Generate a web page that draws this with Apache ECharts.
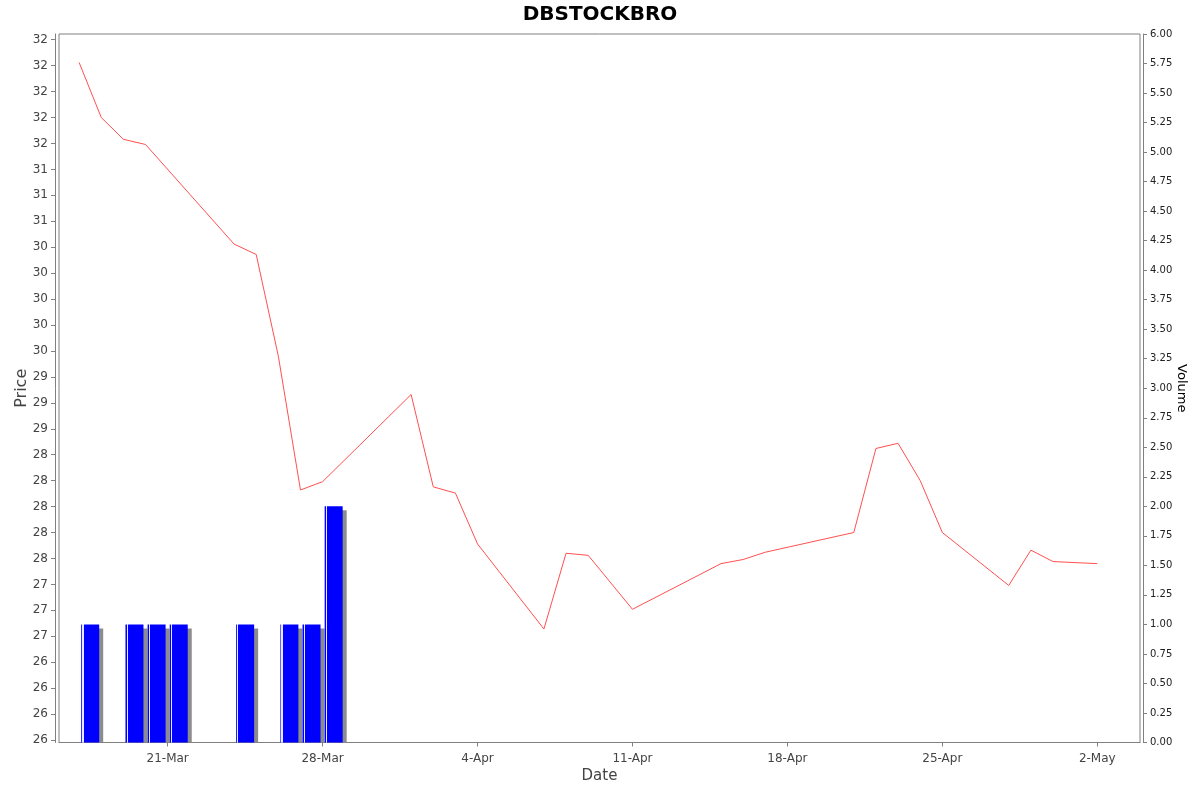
<!DOCTYPE html>
<html>
<head>
<meta charset="utf-8">
<script src="https://cdn.jsdelivr.net/npm/echarts@6/dist/echarts.min.js"></script>
<style>
html,body{margin:0;padding:0;background:#fff;}
#chart{width:1200px;height:792px;}
</style>
</head>
<body>
<div id="chart"></div>
<script>
// ---- data ----
const priceDates = ['2025-03-17','2025-03-18','2025-03-19','2025-03-20','2025-03-24','2025-03-25','2025-03-26','2025-03-27','2025-03-28',
  '2025-04-01','2025-04-02','2025-04-03','2025-04-04','2025-04-07','2025-04-08','2025-04-09','2025-04-11',
  '2025-04-15','2025-04-16','2025-04-17','2025-04-21','2025-04-22','2025-04-23','2025-04-24','2025-04-25',
  '2025-04-28','2025-04-29','2025-04-30','2025-05-02'];
const priceValues = [32.28,31.75,31.54,31.49,30.53,30.43,29.45,28.16,28.24,
  29.08,28.19,28.13,27.64,26.82,27.55,27.53,27.01,
  27.45,27.49,27.56,27.75,28.56,28.61,28.25,27.75,
  27.24,27.58,27.47,27.45];
const volumeDates = ['2025-03-17','2025-03-19','2025-03-20','2025-03-21','2025-03-24','2025-03-26','2025-03-27','2025-03-28'];
const volumeValues = [1,1,1,1,1,1,1,2];
const priceTickValues = [25.75,26,26.25,26.5,26.75,27,27.25,27.5,27.75,28,28.25,28.5,28.75,29,29.25,29.5,29.75,30,30.25,30.5,30.75,31,31.25,31.5,31.75,32,32.25,32.5];
const priceTickLabels = ['26','26','26','26','27','27','27','28','28','28','28','28','29','29','29','30','30','30','30','30','31','31','31','32','32','32','32','32'];
const dateTickValues = ['2025-03-21','2025-03-28','2025-04-04','2025-04-11','2025-04-18','2025-04-25','2025-05-02'];
const dateTickLabels = ['21-Mar','28-Mar','4-Apr','11-Apr','18-Apr','25-Apr','2-May'];

function parseDate(s, hours) {
  const p = s.split('-').map(Number);
  return Date.UTC(p[0], p[1]-1, p[2], hours || 0, 0, 0);
}
const DAY = 86400000;
const xMin = parseDate('2025-03-16', 2) + 10*60000;
const xMax = parseDate('2025-05-03', 22) + 20*60000;

const lineData = priceDates.map((d,i)=>[parseDate(d), priceValues[i]]);
const barData = volumeDates.map((d,i)=>[parseDate(d) + DAY/2, volumeValues[i]]);
const dateTicks = dateTickValues.map(d=>parseDate(d));

const FONT = 'DejaVu Sans';
const chart = echarts.init(document.getElementById('chart'), null, {renderer:'canvas'});

const BARW = 18;
chart.setOption({
  animation: false,
  backgroundColor: '#ffffff',
  title: {
    text: 'DBSTOCKBRO', left: 'center', top: 0,
    textStyle: {fontFamily: FONT, fontWeight: 'bold', fontSize: 20, color: '#000'}
  },
  grid: {left: 59, right: 60, top: 34, bottom: 49.5, show: true, borderColor: '#808080', borderWidth: 1,
    backgroundColor: '#fff', containLabel: false, outerBoundsMode: 'none'},
  xAxis: {
    type: 'value', min: xMin, max: xMax, offset: 4,
    name: 'Date', nameLocation: 'middle', nameGap: 22, nameMoveOverlap: false,
    nameTextStyle: {fontFamily: FONT, fontSize: 15, color: '#444'},
    axisLine: {show: true, lineStyle: {color: '#808080'}},
    axisTick: {show: true, length: 4, lineStyle: {color: '#808080'}, customValues: dateTicks},
    axisLabel: {
      customValues: dateTicks, margin: 6, fontFamily: FONT, fontSize: 12, color: '#444',
      formatter: function (v) {
        let best = 0, bd = Infinity;
        dateTicks.forEach((t,i)=>{ const d = Math.abs(t - v); if (d < bd) { bd = d; best = i; } });
        return dateTickLabels[best];
      }
    },
    splitLine: {show: false}
  },
  yAxis: [{
    type: 'value', position: 'left', min: 25.726, max: 32.555, offset: 4,
    name: 'Price', nameLocation: 'middle', nameGap: 25, nameRotate: 90, nameMoveOverlap: false,
    nameTextStyle: {fontFamily: FONT, fontSize: 16, color: '#444'},
    axisLine: {show: true, lineStyle: {color: '#808080'}},
    axisTick: {show: true, length: 4, lineStyle: {color: '#808080'}, customValues: priceTickValues},
    axisLabel: {
      customValues: priceTickValues, margin: 7, fontFamily: FONT, fontSize: 12, color: '#444',
      formatter: function (v) {
        let best = 0, bd = Infinity;
        priceTickValues.forEach((t,i)=>{ const d = Math.abs(t - v); if (d < bd) { bd = d; best = i; } });
        return priceTickLabels[best];
      }
    },
    splitLine: {show: false}
  }, {
    type: 'value', position: 'right', min: 0, max: 6, interval: 0.25, offset: 3,
    name: 'Volume', nameLocation: 'middle', nameGap: 32, nameRotate: -90, nameMoveOverlap: false,
    nameTextStyle: {fontFamily: FONT, fontSize: 13, color: '#000'},
    axisLine: {show: true, lineStyle: {color: '#808080'}},
    axisTick: {show: true, length: 4, lineStyle: {color: '#808080'}},
    axisLabel: {margin: 7, fontFamily: FONT, fontSize: 10, color: '#222',
      formatter: v => v.toFixed(2)},
    splitLine: {show: false}
  }],
  series: [{
    type: 'custom', yAxisIndex: 1, z: 1, clip: true,
    data: barData,
    renderItem: function (params, api) {
      const x = api.value(0), v = api.value(1);
      const top = api.coord([x, v]);
      const bot = api.coord([x, 0]);
      const shape = echarts.graphic.clipRectByRect({
        x: top[0] - BARW/2 + 4, y: top[1] + 4, width: BARW, height: bot[1] - top[1] - 4
      }, {x: params.coordSys.x, y: params.coordSys.y, width: params.coordSys.width, height: params.coordSys.height});
      return shape ? {type: 'rect', shape: shape, style: {fill: '#8c8c8c'}} : null;
    }
  }, {
    type: 'bar', yAxisIndex: 1, z: 2, barWidth: BARW,
    data: barData,
    itemStyle: {
      color: new echarts.graphic.LinearGradient(0, 0, 1, 0, [
        {offset: 0, color: '#0000ff'}, {offset: 0.06, color: '#0000ff'},
        {offset: 0.06, color: '#e8e8ff'}, {offset: 0.13, color: '#e8e8ff'},
        {offset: 0.13, color: '#0000ff'}, {offset: 1, color: '#0000ff'}
      ])
    }
  }, {
    type: 'line', yAxisIndex: 0, z: 3,
    data: lineData, showSymbol: false, symbol: 'none',
    lineStyle: {color: '#ff5050', width: 1}
  }]
});
</script>
</body>
</html>
